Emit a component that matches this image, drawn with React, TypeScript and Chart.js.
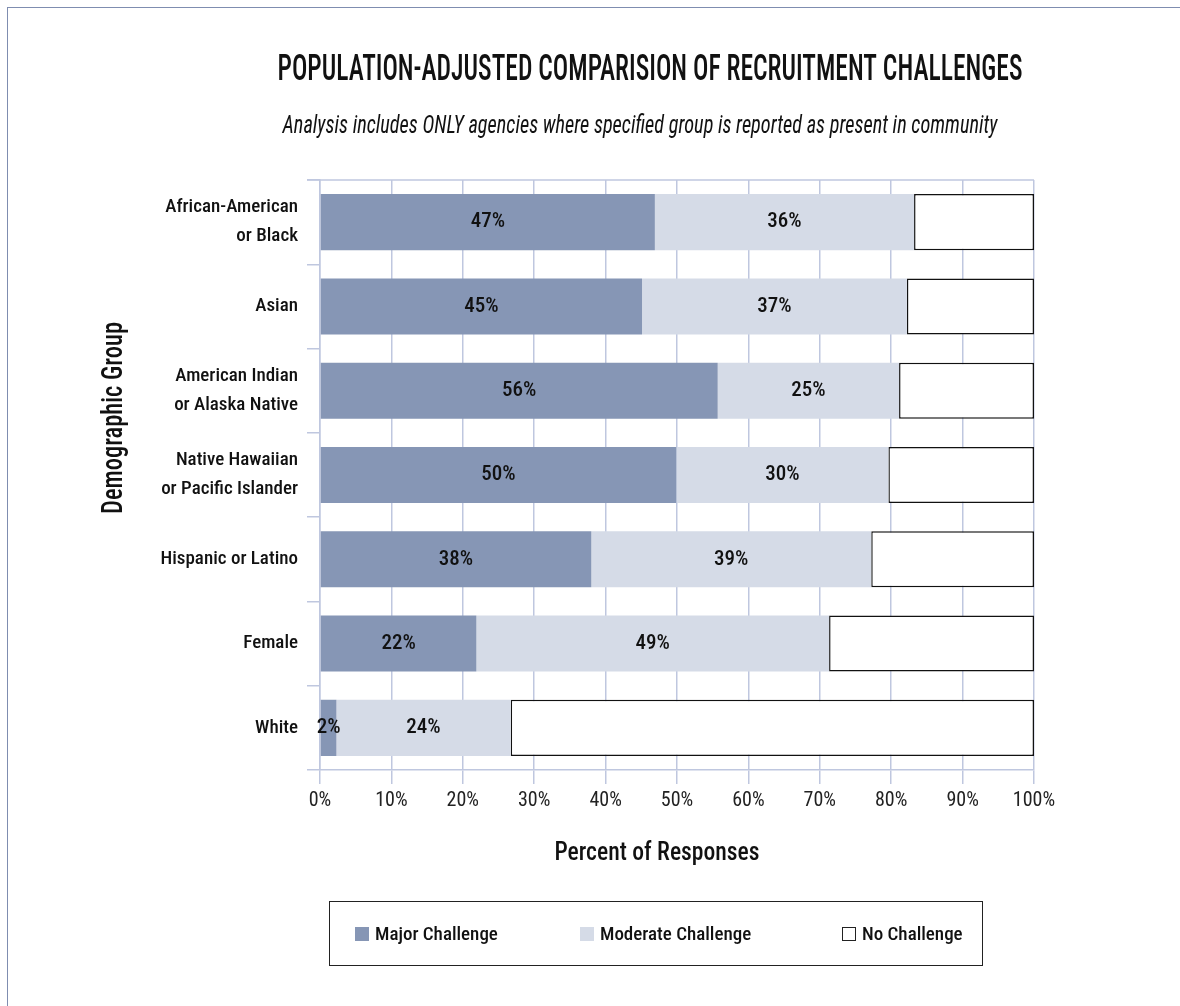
import React, { useEffect, useRef } from 'react';
import { Chart, registerables } from 'chart.js';

Chart.register(...registerables);

const categories: string[][] = [
  ['African-American', 'or Black'],
  ['Asian'],
  ['American Indian', 'or Alaska Native'],
  ['Native Hawaiian', 'or Pacific Islander'],
  ['Hispanic or Latino'],
  ['Female'],
  ['White'],
];
const majorValues = [46.9, 45.1, 55.7, 49.9, 38.0, 21.9, 2.3];
const moderateValues = [36.3, 37.1, 25.4, 29.7, 39.2, 49.4, 24.4];
const noValues = [16.8, 17.8, 18.9, 20.4, 22.8, 28.7, 73.3];
const seriesNames = ['Major Challenge', 'Moderate Challenge', 'No Challenge'];
const seriesColors = ['#8696B5', '#D5DBE7', '#FFFFFF'];
const xTickValues = [0, 10, 20, 30, 40, 50, 60, 70, 80, 90, 100];

const titleText = 'POPULATION-ADJUSTED COMPARISION OF RECRUITMENT CHALLENGES';
const subtitleText = 'Analysis includes ONLY agencies where specified group is reported as present in community';
const xTitle = 'Percent of Responses';
const yTitle = 'Demographic Group';

const FONT = "'Roboto Condensed', 'DejaVu Sans Condensed', sans-serif";
const GRID = '#BFC7DF';
const TEXT = '#111111';

// draw text squeezed horizontally to a target width (condensed look)
function fitText(ctx: CanvasRenderingContext2D, text: string, font: string, width: number) {
  ctx.font = font;
  const w = ctx.measureText(text).width;
  const sx = Math.min(1, width / w);
  ctx.scale(sx, 1);
  ctx.fillText(text, 0, 0);
}

const barLabelPlugin = {
  id: 'barLabels',
  afterDatasetsDraw(chart: any) {
    const ctx = chart.ctx;
    ctx.save();
    ctx.font = `500 21px ${FONT}`;
    ctx.fillStyle = TEXT;
    ctx.textAlign = 'center';
    ctx.textBaseline = 'middle';
    [0, 1].forEach((di) => {
      const meta = chart.getDatasetMeta(di);
      meta.data.forEach((el: any, i: number) => {
        const { x, base, y } = el.getProps(['x', 'base', 'y'], true);
        const v = chart.data.datasets[di].data[i] as number;
        ctx.fillText(Math.round(v) + '%', (x + base) / 2, y);
      });
    });
    ctx.restore();
  },
};

const textPlugin = {
  id: 'textExtras',
  afterDraw(chart: any) {
    const { ctx, chartArea } = chart;
    ctx.save();
    ctx.strokeStyle = GRID;
    ctx.lineWidth = 1.5;
    ctx.beginPath();
    ctx.moveTo(chartArea.left - 13, chartArea.top);
    ctx.lineTo(chartArea.right, chartArea.top);
    ctx.stroke();
    ctx.restore();

    ctx.fillStyle = TEXT;
    ctx.textAlign = 'center';
    ctx.textBaseline = 'alphabetic';

    ctx.save();
    ctx.translate(650, 80);
    fitText(ctx, titleText, `500 36px ${FONT}`, 745);
    ctx.restore();

    ctx.save();
    ctx.translate(640, 133);
    fitText(ctx, subtitleText, `italic 25px ${FONT}`, 715);
    ctx.restore();

    ctx.save();
    ctx.translate(657, 860);
    fitText(ctx, xTitle, `500 26px ${FONT}`, 205);
    ctx.restore();

    ctx.save();
    ctx.translate(122, 418);
    ctx.rotate(-Math.PI / 2);
    fitText(ctx, yTitle, `500 30px ${FONT}`, 192);
    ctx.restore();
  },
};

export default function App() {
  const canvasRef = useRef<HTMLCanvasElement | null>(null);

  useEffect(() => {
    document.body.style.margin = '0';
    const canvas = canvasRef.current;
    if (!canvas) return;
    const chart = new Chart(canvas, {
      type: 'bar',
      data: {
        labels: categories,
        datasets: [
          { label: seriesNames[0], data: majorValues, backgroundColor: seriesColors[0], borderWidth: 0 },
          { label: seriesNames[1], data: moderateValues, backgroundColor: seriesColors[1], borderWidth: 0 },
          {
            label: seriesNames[2],
            data: noValues,
            backgroundColor: seriesColors[2],
            borderColor: '#111111',
            borderWidth: 1.5,
            borderSkipped: false,
          },
        ],
      },
      options: {
        indexAxis: 'y',
        animation: false,
        responsive: true,
        maintainAspectRatio: false,
        layout: { padding: { left: 0, right: 146, top: 180, bottom: 137 } },
        datasets: { bar: { categoryPercentage: 1, barPercentage: 0.665 } },
        plugins: {
          legend: { display: false },
          tooltip: { enabled: false },
          title: { display: false },
        },
        scales: {
          x: {
            stacked: true,
            min: 0,
            max: 100,
            afterBuildTicks: (scale: any) => {
              scale.ticks = xTickValues.map((v) => ({ value: v }));
            },
            afterFit: (scale: any) => {
              scale.height = 99;
            },
            ticks: {
              color: '#222222',
              padding: 5,
              font: { family: FONT, size: 20 },
              callback: (v: any) => v + '%',
            },
            grid: { color: GRID, lineWidth: 1.5, tickLength: 14 },
            border: { color: GRID, width: 1.5 },
            title: { display: false },
          },
          y: {
            stacked: true,
            afterFit: (scale: any) => {
              scale.width = 320;
            },
            ticks: {
              color: TEXT,
              padding: 9,
              font: { family: FONT, size: 19, weight: '500', lineHeight: 1.53 },
            },
            grid: { drawOnChartArea: false, color: GRID, lineWidth: 1.5, tickLength: 13, offset: true },
            border: { color: GRID, width: 1.5 },
          },
        },
      },
      plugins: [barLabelPlugin, textPlugin],
    });
    return () => chart.destroy();
  }, []);

  return (
    <div style={{ position: 'relative', width: 1180, height: 1006, overflow: 'hidden', background: '#fff' }}>
      <div
        style={{
          position: 'absolute',
          left: 7,
          top: 7,
          width: 1300,
          height: 1100,
          borderLeft: '1.5px solid #7F8DB0',
          borderTop: '1.5px solid #7F8DB0',
        }}
      />
      <div style={{ position: 'absolute', left: 0, top: 0, width: 1180, height: 1006 }}>
        <canvas ref={canvasRef} />
      </div>
      <div
        style={{
          position: 'absolute',
          left: 329,
          top: 901,
          width: 654,
          height: 65,
          border: '1.5px solid #222',
          boxSizing: 'border-box',
          fontFamily: FONT,
          fontSize: 19,
          fontWeight: 500,
          color: TEXT,
        }}
      >
        {seriesNames.map((name, i) => (
          <div
            key={name}
            style={{
              position: 'absolute',
              left: [25, 250, 512][i],
              top: 0,
              height: '100%',
              display: 'flex',
              alignItems: 'center',
              whiteSpace: 'nowrap',
            }}
          >
            <span
              style={{
                display: 'inline-block',
                width: 14,
                height: 14,
                background: seriesColors[i],
                border: i === 2 ? '1.5px solid #222' : 'none',
                boxSizing: 'border-box',
                marginRight: 6,
              }}
            />
            <span>{name}</span>
          </div>
        ))}
      </div>
    </div>
  );
}
